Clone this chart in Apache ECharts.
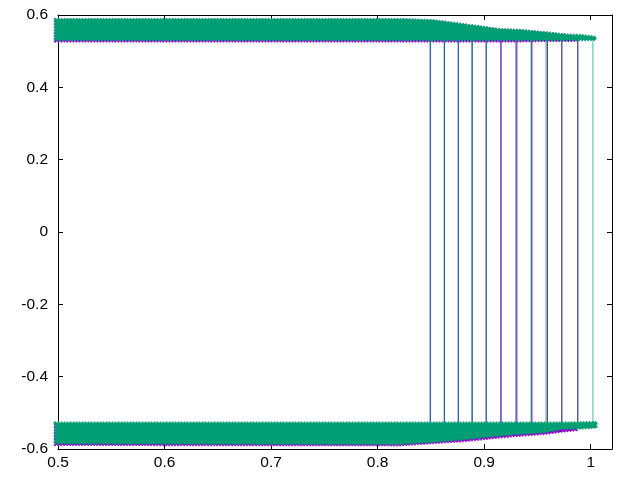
<!DOCTYPE html>
<html>
<head>
<meta charset="utf-8">
<script src="https://cdn.jsdelivr.net/npm/echarts@6/dist/echarts.min.js"></script>
<style>
    html, body { margin: 0; padding: 0; background: #fff; }
    #chart { width: 640px; height: 480px; }
</style>
</head>
<body>
<div id="chart"></div>
<script>
    // upper band (state +0.55), edges
    var greenTopX     = [0.497, 0.8207, 0.8516, 0.8676, 0.8929, 0.9146, 0.9334, 0.9587, 0.9775, 0.9915, 1.0047];
    var greenTopHigh  = [0.589, 0.589, 0.586, 0.580, 0.570, 0.561, 0.559, 0.552, 0.546, 0.545, 0.540];
    var greenTopLow   = [0.530, 0.530, 0.530, 0.530, 0.530, 0.530, 0.530, 0.530, 0.530, 0.530, 0.531];
    var purpleTopX    = [0.497, 0.8207, 0.8516, 0.8676, 0.8929, 0.9146, 0.9334, 0.9587, 0.9775, 0.9890];
    var purpleTopHigh = [0.588, 0.588, 0.585, 0.579, 0.569, 0.560, 0.558, 0.551, 0.545, 0.543];
    var purpleTopLow  = [0.527, 0.527, 0.527, 0.527, 0.527, 0.527, 0.527, 0.528, 0.528, 0.529];

    // lower band (state -0.55)
    var greenBotX     = [0.497, 0.8207, 0.8516, 0.8836, 0.9052, 0.9305, 0.9549, 0.9737, 0.9897, 1.0056];
    var greenBotHigh  = [-0.527, -0.527, -0.527, -0.527, -0.527, -0.527, -0.527, -0.527, -0.526, -0.525];
    var greenBotLow   = [-0.585, -0.587, -0.581, -0.573, -0.566, -0.559, -0.555, -0.545, -0.544, -0.541];
    var purpleBotX    = [0.497, 0.8207, 0.8516, 0.8836, 0.9052, 0.9305, 0.9549, 0.9737, 0.9869];
    var purpleBotHigh = [-0.530, -0.530, -0.530, -0.530, -0.530, -0.530, -0.530, -0.530, -0.530];
    var purpleBotLow  = [-0.589, -0.590, -0.584, -0.578, -0.571, -0.564, -0.559, -0.552, -0.548];

    // x where each run jumps between the two states
    var purpleJumpX = [0.8495, 0.8627, 0.8758, 0.8887, 0.9019, 0.9157, 0.9300, 0.9447, 0.9593, 0.9728, 0.9878];
    var greenJumpX  = [0.8495, 0.8627, 0.8758, 0.8889, 0.9021, 0.9160, 0.9310, 0.9440, 0.9580, 0.9728, 0.9878, 1.0021];
    var jumpTop = 0.540;
    var jumpBottom = -0.535;

    var xTicks = [0.5, 0.6, 0.7, 0.8, 0.9, 1];

    var PURPLE = '#9400d3';
    var GREEN = '#009e73';
    var FONT = 'Liberation Sans, Arial, sans-serif';

    function bandSeries(name, color, xs, highs, lows) {
        return {
            name: name,
            type: 'custom',
            clip: false,
            data: xs.map(function (x, i) { return [x, highs[i], lows[i]]; }),
            renderItem: function (params, api) {
                if (params.dataIndex !== 0) return null;
                var pts = [];
                for (var i = 0; i < xs.length; i++) pts.push(api.coord([xs[i], highs[i]]));
                for (var j = xs.length - 1; j >= 0; j--) pts.push(api.coord([xs[j], lows[j]]));
                return {
                    type: 'polygon',
                    shape: { points: pts },
                    style: { fill: color, stroke: color, lineWidth: 2, lineDash: [1.5, 1.5] }
                };
            }
        };
    }

    function jumpSeries(name, color, xs, opacity) {
        return {
            name: name,
            type: 'custom',
            data: xs.map(function (x) { return [x, jumpTop, jumpBottom]; }),
            renderItem: function (params, api) {
                var a = api.coord([api.value(0), api.value(1)]);
                var b = api.coord([api.value(0), api.value(2)]);
                return {
                    type: 'line',
                    shape: { x1: a[0], y1: a[1], x2: b[0], y2: b[1] },
                    style: { stroke: color, lineWidth: 1.2, opacity: opacity }
                };
            }
        };
    }

    var axisLine = { show: true, onZero: false, lineStyle: { color: '#000', width: 1 } };
    var axisTick = { show: true, inside: true, length: 5, lineStyle: { color: '#000' } };
    var labelStyle = { color: '#000', fontFamily: FONT, fontSize: 15.5 };

    var chart = echarts.init(document.getElementById('chart'));
    chart.setOption({
        animation: false,
        backgroundColor: '#fff',
        grid: { left: 58, right: 28, top: 15, bottom: 31 },
        xAxis: [{
            type: 'value', position: 'bottom', min: 0.5, max: 1.02, interval: 0.1,
            axisLine: axisLine, axisTick: axisTick, splitLine: { show: false },
            axisLabel: Object.assign({
                margin: 6, showMaxLabel: false,
                formatter: function (v) {
                    for (var i = 0; i < xTicks.length; i++) {
                        if (Math.abs(xTicks[i] - v) < 1e-6) return String(xTicks[i]);
                    }
                    return '';
                }
            }, labelStyle)
        }, {
            type: 'value', position: 'top', min: 0.5, max: 1.02, interval: 0.1,
            axisLine: axisLine, axisTick: axisTick, splitLine: { show: false },
            axisLabel: { show: false }
        }],
        yAxis: [{
            type: 'value', position: 'left', min: -0.6, max: 0.6, interval: 0.2,
            axisLine: axisLine, axisTick: axisTick, splitLine: { show: false },
            axisLabel: Object.assign({ margin: 10 }, labelStyle)
        }, {
            type: 'value', position: 'right', min: -0.6, max: 0.6, interval: 0.2,
            axisLine: axisLine, axisTick: axisTick, splitLine: { show: false },
            axisLabel: { show: false }
        }],
        series: [
            bandSeries('purple top', PURPLE, purpleTopX, purpleTopHigh, purpleTopLow),
            bandSeries('purple bottom', PURPLE, purpleBotX, purpleBotHigh, purpleBotLow),
            jumpSeries('purple jumps', PURPLE, purpleJumpX, 1),
            bandSeries('green top', GREEN, greenTopX, greenTopHigh, greenTopLow),
            bandSeries('green bottom', GREEN, greenBotX, greenBotHigh, greenBotLow),
            jumpSeries('green jumps', GREEN, greenJumpX, 0.6)
        ]
    });
</script>
</body>
</html>
